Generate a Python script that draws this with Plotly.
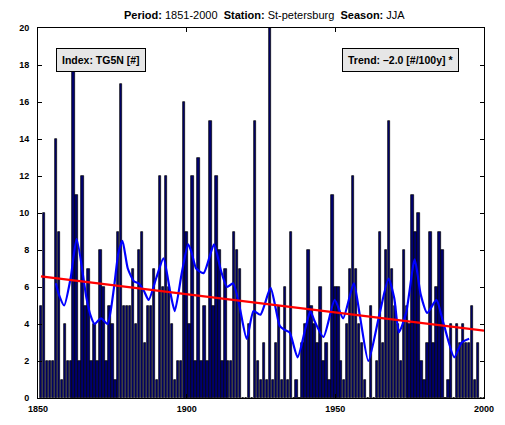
import plotly.graph_objects as go

years = list(range(1851, 2001))
values = [
    5, 10, 2, 2, 2, 14, 9, 1, 4, 2,          # 1851-1860
    2, 18, 11, 2, 12, 5, 7, 2, 4, 2,          # 1861-1870
    8, 6, 2, 5, 4, 1, 9, 17, 5, 5,            # 1871-1880
    5, 7, 4, 8, 9, 3, 5, 5, 7, 1,             # 1881-1890
    12, 6, 12, 6, 4, 1, 2, 2, 16, 9,          # 1891-1900
    4, 12, 2, 13, 2, 5, 2, 15, 5, 12,         # 1901-1910
    8, 2, 7, 2, 2, 9, 8, 7, 0, 0,             # 1911-1920
    4, 0, 15, 2, 1, 3, 1, 20, 1, 3,           # 1921-1930
    5, 1, 6, 1, 9, 0, 1, 0, 3, 4,             # 1931-1940
    8, 5, 4, 3, 6, 2, 3, 1, 11, 6,            # 1941-1950
    6, 2, 1, 4, 7, 12, 7, 4, 3, 1,            # 1951-1960
    0, 5, 0, 2, 9, 3, 8, 15, 7, 5,            # 1961-1970
    4, 2, 8, 5, 4, 11, 9, 10, 2, 1,           # 1971-1980
    3, 9, 3, 6, 9, 8, 0, 1, 4, 0,             # 1981-1990
    4, 3, 4, 3, 3, 5, 1, 3, 0, 0,             # 1991-2000
]

smooth_years = [1856, 1857, 1858.8, 1861, 1863, 1866.3, 1867.6, 1869, 1871.2,
                1873.4, 1875.5, 1877, 1878.4, 1880.2, 1882.3, 1883.9, 1885.6, 1887.2, 1889.8,
                1892.2, 1894.5, 1896, 1898.4, 1900.5, 1901.6, 1903.2, 1905.7, 1909.2, 1911.5,
                1913.6, 1915.6, 1917.7, 1920.2, 1922.5, 1924.8, 1928.2, 1930, 1931.3, 1932.8,
                1934.6, 1937.3, 1940, 1941.6, 1942.9, 1946, 1949.8, 1952.6, 1956.2, 1958.3,
                1961.1, 1964.8, 1967.9, 1969.8, 1971.4, 1973.8, 1976.7, 1978.7, 1980.9, 1984,
                1986.1, 1990, 1992.5, 1995]
smooth_values = [6.2, 5.6, 5.0, 6.5, 8.6, 5.4, 4.5, 4.0, 4.3,
                 4.0, 5.9, 7.8, 8.5, 7.0, 6.3, 6.2, 5.8, 5.3, 6.5,
                 7.55, 5.7, 4.7, 6.8, 8.3, 7.9, 7.0, 6.75, 8.3, 6.9,
                 6.0, 6.2, 5.0, 3.2, 4.7, 4.5, 5.95, 4.8, 3.9, 3.7,
                 3.55, 2.2, 3.8, 4.7, 4.2, 3.3, 5.3, 4.3, 6.2, 4.4,
                 2.0, 4.5, 6.45, 5.4, 3.55, 4.6, 7.5, 5.6, 4.6, 5.3,
                 4.2, 2.2, 3.0, 3.2]

trend_years = [1851, 2000]
trend_values = [6.57, 3.64]

y_ticks = list(range(0, 21, 2))
x_ticks = [1850, 1900, 1950, 2000]

fig = go.Figure()
fig.add_trace(go.Bar(x=years, y=values, width=0.8,
                     marker=dict(color="rgb(0,0,110)", line=dict(color="black", width=0.7)),
                     showlegend=False))
fig.add_trace(go.Scatter(x=smooth_years, y=smooth_values, mode="lines",
                         line=dict(color="rgb(0,0,255)", width=2.2, shape="spline", smoothing=0.6),
                         showlegend=False))
fig.add_trace(go.Scatter(x=trend_years, y=trend_values, mode="lines",
                         line=dict(color="rgb(255,0,0)", width=2.2), showlegend=False))

font = "Liberation Sans, Arial, Helvetica, sans-serif"
# page body has an 8px default margin, so the figure is 8px smaller and margins shifted
fig.update_layout(
    width=497, height=417,
    margin=dict(l=18, r=11, t=20, b=20),
    paper_bgcolor="white", plot_bgcolor="white",
    bargap=0,
    font=dict(family=font, color="black"),
    xaxis=dict(range=[1850, 2000], tickvals=x_ticks, ticktext=[f"<b>{t}</b>" for t in x_ticks],
               ticks="inside", ticklen=4, tickcolor="black", showline=True, linecolor="black",
               linewidth=1, mirror="ticks", showgrid=False, zeroline=False,
               ticklabelstandoff=2,
               tickfont=dict(size=9, family=font)),
    yaxis=dict(range=[0, 20], tickvals=y_ticks, ticktext=[f"<b>{t}</b>" for t in y_ticks],
               ticks="inside", ticklen=4, tickcolor="black", showline=True, linecolor="black",
               linewidth=1, mirror="ticks", showgrid=False, zeroline=False,
               ticklabelstandoff=6,
               tickfont=dict(size=9, family=font)),
    annotations=[
        dict(text="<b>Period:</b> 1851-2000&nbsp;&nbsp;<b>Station:</b> St-petersburg&nbsp;&nbsp;<b>Season:</b> JJA",
             xref="paper", yref="paper", x=(264 - 26) / 468, y=1.0, yshift=13, showarrow=False,
             xanchor="center", yanchor="middle", font=dict(size=11, family=font)),
        dict(text="<b>Index: TG5N [#]</b>", xref="paper", yref="paper",
             x=(45 - 26) / 468, y=(405 - 61) / 377, xanchor="left", yanchor="middle",
             showarrow=False, bgcolor="rgb(230,230,230)", bordercolor="black", borderwidth=1,
             borderpad=5, font=dict(size=10.5, family=font)),
        dict(text="<b>Trend: –2.0 [#/100y] *</b>", xref="paper", yref="paper",
             x=(468 - 26) / 468, y=(405 - 61) / 377, xanchor="right", yanchor="middle",
             showarrow=False, bgcolor="rgb(230,230,230)", bordercolor="black", borderwidth=1,
             borderpad=5, font=dict(size=10.5, family=font)),
    ],
)

fig.write_html("out.html")
